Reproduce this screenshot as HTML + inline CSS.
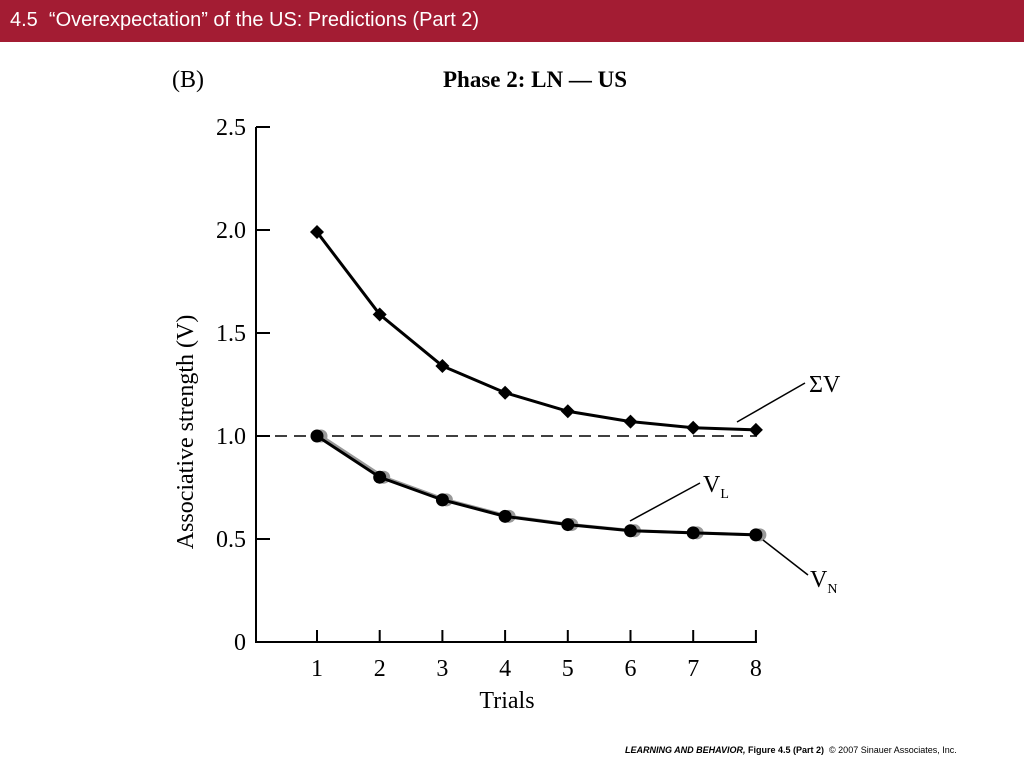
<!DOCTYPE html>
<html><head><meta charset="utf-8"><style>
body{margin:0;width:1024px;height:768px;background:#fff;overflow:hidden;font-family:"Liberation Sans",sans-serif}
#hdr{position:absolute;left:0;top:0;width:1024px;height:42px;background:#a31c33;color:#fff;font-size:20px;line-height:40px;padding-left:10px;box-sizing:border-box}
#foot{position:absolute;left:625px;top:745px;font-size:9px;color:#000}
svg text{font-family:"Liberation Serif",serif}
</style></head><body>
<div id="hdr">4.5&nbsp; “Overexpectation” of the US: Predictions (Part 2)</div>
<svg id="chart" width="1024" height="768" style="position:absolute;left:0;top:0"></svg>
<div id="foot"><b><i>LEARNING AND BEHAVIOR,</i> Figure 4.5 (Part 2)</b> &nbsp;© 2007 Sinauer Associates, Inc.</div>
<script>
const trials=[1,2,3,4,5,6,7,8];
const sumV=[1.99,1.59,1.34,1.21,1.12,1.07,1.04,1.03];
const vL=[1.0,0.80,0.69,0.61,0.57,0.54,0.53,0.52];
const vN=[1.0,0.80,0.69,0.61,0.57,0.54,0.53,0.52];
const yTicks=[0,0.5,1.0,1.5,2.0,2.5];
const yTickLabels=["0","0.5","1.0","1.5","2.0","2.5"];
const NS="http://www.w3.org/2000/svg";
const svg=document.getElementById('chart');
const X=t=>317+(t-1)*62.7;
const Y=v=>642-v*206;
function mk(tag,attrs,parent){const e=document.createElementNS(NS,tag);for(const k in attrs)e.setAttribute(k,attrs[k]);(parent||svg).appendChild(e);return e;}
function txt(x,y,s,size,anchor,name,weight){const t=mk('text',{x:x,y:y,'font-size':size,'text-anchor':anchor||'middle'});if(weight)t.setAttribute('font-weight',weight);t.textContent=s;


return t;}
let a=mk('path',{d:`M256 ${Y(2.5)} V642 H757`,stroke:'#000','stroke-width':2,fill:'none'});


yTicks.forEach((v,i)=>{let l=mk('line',{x1:256,x2:270,y1:Y(v),y2:Y(v),stroke:'#000','stroke-width':2});


txt(246,Y(v)+8,yTickLabels[i],24,'end','y-tick-label');});
trials.forEach(t=>{let l=mk('line',{x1:X(t),x2:X(t),y1:642,y2:630,stroke:'#000','stroke-width':2});


txt(X(t),676,String(t),24,'middle','x-tick-label');});
let d=mk('line',{x1:256,x2:757,y1:Y(1),y2:Y(1),stroke:'#000','stroke-width':1.5,'stroke-dasharray':'12 7'});


function series(vals,dx,color,name,marker){
 let p=mk('polyline',{points:vals.map((v,i)=>`${X(trials[i])+dx},${Y(v)}`).join(' '),fill:'none',stroke:color,'stroke-width':3});
 
 
 vals.forEach((v,i)=>{let m;const cx=X(trials[i])+dx,cy=Y(v);
  if(marker==='diamond')m=mk('polygon',{points:`${cx},${cy-7} ${cx+7},${cy} ${cx},${cy+7} ${cx-7},${cy}`,fill:color});
  else m=mk('circle',{cx:cx,cy:cy,r:6.5,fill:color});
  
  });
}
series(vN,4,'#999','vn','circle');
series(vL,0,'#000','vl','circle');
series(sumV,0,'#000','sum-v','diamond');
[[737,422,805,383],[630,521,700,483],[763,540,808,575]].forEach(c=>{let l=mk('line',{x1:c[0],y1:c[1],x2:c[2],y2:c[3],stroke:'#000','stroke-width':1.5});

});
txt(809,392,'ΣV',24,'start','sum-v-label');
let vl=txt(703,492,'V',24,'start','vl-label');let s1=mk('tspan',{'font-size':14,dy:6},vl);s1.textContent='L';
let vn=txt(810,587,'V',24,'start','vn-label');let s2=mk('tspan',{'font-size':14,dy:6},vn);s2.textContent='N';
txt(188,87,'(B)',24,'middle','panel-label');
txt(535,87,'Phase 2: LN — US',23,'middle','chart-title','bold');
txt(507,708,'Trials',24,'middle','x-axis-title');
let yt=txt(0,0,'Associative strength (V)',24,'middle','y-axis-title');yt.setAttribute('transform','translate(193,432) rotate(-90)');
</script>
</body></html>
